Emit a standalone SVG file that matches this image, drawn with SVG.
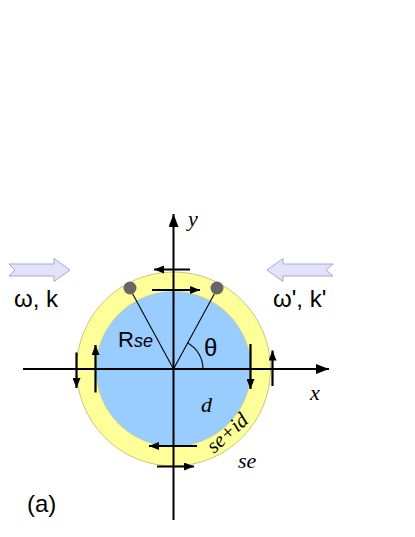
<svg xmlns="http://www.w3.org/2000/svg" width="415" height="537" viewBox="0 0 415 537">
<defs>
<marker id="ah" viewBox="0 0 10 8" refX="10" refY="4" markerWidth="11" markerHeight="8" markerUnits="userSpaceOnUse" orient="auto">
<path d="M0,0 L10,4 L0,8 Z" fill="#000"/>
</marker>
<marker id="ahBig" viewBox="0 0 13 10" refX="13" refY="5" markerWidth="13" markerHeight="10" markerUnits="userSpaceOnUse" orient="auto">
<path d="M0,0 L13,5 L0,10 Z" fill="#000"/>
</marker>
</defs>
<style>
.sans{font-family:"Liberation Sans",Arial,sans-serif;fill:#000}
.serif{font-family:"Liberation Serif","Times New Roman",serif;font-style:italic;fill:#000}
.blk{fill:#e2e2fc;stroke:#a6a8d8;stroke-width:1}
.tan{stroke:#000;stroke-width:2.2;fill:none;marker-end:url(#ah)}
.axis{stroke:#000;stroke-width:2;fill:none;marker-end:url(#ahBig)}
.rad{stroke:#000;stroke-width:1.1;fill:none}
</style>
<rect width="415" height="537" fill="#fff"/>
<g id="wave-left">
<path class="blk" d="M9,264 L54,264 L54,258.5 L70,270 L54,281.5 L54,276 L9,276 L15,270 Z"/>
<text class="sans" x="14" y="307" font-size="24">ω, k</text>
</g>
<g id="wave-right">
<path class="blk" d="M333,264 L283,264 L283,258.5 L267,270 L283,281.5 L283,276 L333,276 L326,270 Z"/>
<text class="sans" x="273" y="307" font-size="24">ω', k'</text>
</g>
<g id="ring">
<circle cx="173.5" cy="369" r="97" fill="#ffff99" stroke="#c8c87a" stroke-width="1"/>
</g>
<g id="disk">
<circle cx="173.5" cy="369" r="77.5" fill="#99ccff" stroke="#c8c87a" stroke-width="0.6"/>
</g>
<g id="connectors">
<line class="axis" x1="23" y1="369" x2="329" y2="369"/>
<line class="axis" x1="173.5" y1="520" x2="173.5" y2="214"/>
<line class="rad" x1="173.5" y1="369" x2="130" y2="289"/>
<line class="rad" x1="173.5" y1="369" x2="217" y2="289"/>
<path class="rad" d="M203,369 A29.5,29.5 0 0 0 187.2,342.8"/>
<line class="tan" x1="190" y1="269.5" x2="154" y2="269.5"/>
<line class="tan" x1="152" y1="290" x2="200" y2="290"/>
<line class="tan" x1="76.5" y1="352.5" x2="76.5" y2="388"/>
<line class="tan" x1="95.5" y1="392.5" x2="95.5" y2="345"/>
<line class="tan" x1="250.5" y1="344" x2="250.5" y2="389"/>
<line class="tan" x1="272.5" y1="386" x2="272.5" y2="350.5"/>
<line class="tan" x1="197" y1="446" x2="149" y2="446"/>
<line class="tan" x1="157" y1="466.5" x2="194" y2="466.5"/>
</g>
<g id="particles">
<circle cx="130" cy="288" r="6.5" fill="#666"/>
<circle cx="217" cy="288" r="6.5" fill="#666"/>
</g>
<g id="labels">
<text class="serif" x="188" y="226" font-size="22">y</text>
<text class="serif" x="310" y="400" font-size="22">x</text>
<text class="sans" x="118" y="346.5" font-size="22">R<tspan font-size="18" font-style="italic">se</tspan></text>
<text class="sans" x="204" y="356" font-size="24">θ</text>
<text class="serif" x="201" y="412" font-size="22">d</text>
<text class="serif" x="0" y="0" font-size="21" transform="translate(214,454) rotate(-42)">se+id</text>
<text class="serif" x="238" y="468" font-size="22">se</text>
<text class="sans" x="27" y="512" font-size="24">(a)</text>
</g>
</svg>
